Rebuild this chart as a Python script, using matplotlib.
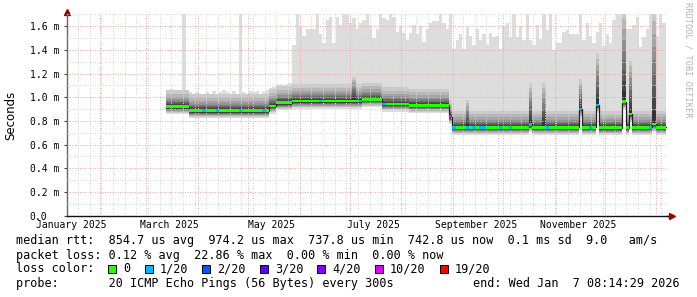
import numpy as np
import pandas as pd
import matplotlib
matplotlib.use("Agg")
import matplotlib.pyplot as plt
import matplotlib.dates as mdates
from matplotlib.ticker import MultipleLocator, FuncFormatter
from matplotlib.patches import Rectangle

# graph window (360 days)
t_start = "2025-01-12 08:14:29"
t_end = "2026-01-07 08:14:29"

# data begins here, one value per 2 day step
bin_start = "2025-03-12 12:00"
bin_days = 2

# max rtt per step (ms)
top_ms = [
    1.06, 1.07, 1.05, 1.06, 1.05, 1.75, 1.06, 1.04, 1.03, 1.04,
    1.02, 1.03, 1.04, 1.03, 1.05, 1.03, 1.04, 1.06, 1.04, 1.03,
    1.05, 1.03, 1.75, 1.04, 1.03, 1.05, 1.04, 1.05, 1.03, 1.04,
    1.06, 1.08, 1.09, 1.10, 1.11, 1.10, 1.11, 1.12, 1.44, 1.75,
    1.60, 1.52, 1.58, 1.58, 1.58, 1.75, 1.53, 1.46, 1.65, 1.68,
    1.46, 1.68, 1.61, 1.75, 1.75, 1.63, 1.67, 1.58, 1.63, 1.65,
    1.75, 1.61, 1.50, 1.58, 1.75, 1.67, 1.65, 1.75, 1.68, 1.55,
    1.60, 1.54, 1.48, 1.54, 1.61, 1.53, 1.60, 1.47, 1.58, 1.63,
    1.64, 1.64, 1.75, 1.63, 1.58, 1.75, 1.41, 1.48, 1.53, 1.41,
    1.59, 1.52, 1.44, 1.58, 1.48, 1.53, 1.44, 1.54, 1.51, 1.52,
    1.41, 1.60, 1.63, 1.51, 1.75, 1.51, 1.60, 1.48, 1.75, 1.48,
    1.44, 1.61, 1.49, 1.75, 1.57, 1.75, 1.40, 1.46, 1.46, 1.55,
    1.57, 1.53, 1.53, 1.53, 1.75, 1.48, 1.63, 1.52, 1.46, 1.55,
    1.63, 1.43, 1.53, 1.46, 1.65, 1.75, 1.75, 1.75, 1.58, 1.58,
    1.61, 1.68, 1.42, 1.51, 1.58, 1.75, 1.75, 1.52, 1.75, 1.63,
]

# median rtt (ms), value holds from each date on
med_dates = ["2025-03-12", "2025-03-27", "2025-05-13", "2025-05-18", "2025-05-27",
             "2025-07-08", "2025-07-21", "2025-08-06", "2025-08-30", "2025-08-31",
             "2025-10-17", "2025-10-18", "2025-11-16", "2025-11-17", "2025-11-26",
             "2025-11-27", "2025-12-12", "2025-12-13", "2025-12-16", "2025-12-17",
             "2025-12-30", "2025-12-31"]
med_ms = [0.920, 0.886, 0.926, 0.953, 0.968,
          0.982, 0.943, 0.932, 0.835, 0.746,
          0.770, 0.746, 0.900, 0.746, 0.934,
          0.742, 0.962, 0.742, 0.858, 0.746,
          0.773, 0.746]

# steps where the dark smoke shoots up (ms)
spike_dates = ["2025-07-03", "2025-09-09", "2025-10-17", "2025-10-25", "2025-11-16",
               "2025-11-26", "2025-12-12", "2025-12-16", "2025-12-30"]
spike_ms = [1.17, 0.98, 1.12, 1.12, 1.15, 1.37, 1.75, 1.31, 1.75]

# steps with lost pings (out of 20)
loss_dates = ["2025-04-04", "2025-04-12", "2025-04-26", "2025-05-10", "2025-06-13",
              "2025-07-07", "2025-07-21", "2025-08-30", "2025-09-01", "2025-09-09",
              "2025-09-13", "2025-09-17", "2025-09-19", "2025-09-29", "2025-10-05",
              "2025-10-17", "2025-10-27", "2025-11-16", "2025-11-22", "2025-11-26",
              "2025-12-28"]
loss_n = [1, 1, 1, 1, 1,
          1, 1, 10, 1, 1,
          1, 1, 1, 1, 1,
          1, 1, 1, 1, 1,
          1]

loss_levels = [0, 1, 2, 3, 4, 10, 19]
loss_labels = ["0", "1/20", "2/20", "3/20", "4/20", "10/20", "19/20"]
loss_colors = ["#26ff00", "#00b8ff", "#0059ff", "#5e00ff", "#7e00ff", "#dd00ff", "#ff0000"]

# smoke layers around the median (ms), outermost first
smoke_lo = [-0.065, -0.055, -0.047, -0.040, -0.034, -0.029, -0.024, -0.020, -0.016, -0.012]
smoke_hi = [None, 0.14, 0.11, 0.085, 0.065, 0.05, 0.038, 0.028, 0.02, 0.012]

label_dates = ["2025-01-15", "2025-03-15", "2025-05-15", "2025-07-15", "2025-09-15", "2025-11-15"]

stats_lines = [
    "median rtt:  854.7 us avg  974.2 us max  737.8 us min  742.8 us now  0.1 ms sd  9.0   am/s",
    "packet loss: 0.12 % avg  22.86 % max  0.00 % min  0.00 % now",
]
probe_text = "probe:       20 ICMP Echo Pings (56 Bytes) every 300s"
end_text = "end: Wed Jan  7 08:14:29 2026"

mono = "DejaVu Sans Mono"
plt.rcParams['font.family'] = mono

W, H = 697, 297
fig = plt.figure(figsize=(W / 100, H / 100), dpi=100)
fig.patch.set_facecolor("white")
ax = fig.add_axes([67 / W, 81.5 / H, 600 / W, 201.5 / H])

start = pd.Timestamp(bin_start)
step = pd.Timedelta(days=bin_days)
n = len(top_ms)
edges = mdates.date2num(pd.date_range(start, periods=n + 1, freq="%dD" % bin_days))


def bin_of(d):
    return int((pd.Timestamp(d) + pd.Timedelta(hours=12) - start) / step)


def ext(a):
    return np.append(a, a[-1])


med = np.zeros(n)
for d, v in zip(med_dates, med_ms):
    med[bin_of(d):] = v

lo = [med + o for o in smoke_lo]
hi = [None] + [med + o for o in smoke_hi[1:]]
for d, s in zip(spike_dates, spike_ms):
    j = bin_of(d)
    for k in range(1, 10):
        hi[k][j] = max(hi[k][j], med[j] + (s - med[j]) * (10 - k) / 9)
hi[0] = np.maximum(np.array(top_ms), hi[1])

# smoke, smokeping grey shades
half = 10
for k in range(10):
    g = int(190 / half * (half - (k + 1))) + 50
    col = "#%02x%02x%02x" % (g, g, g)
    ax.fill_between(edges, ext(lo[k]), ext(hi[k]), step="post", color=col, lw=0, zorder=1)

# median coloured by loss
sw = 0.012
ax.step(edges, ext(med), where="post", color="#202020", lw=0.9, zorder=3)
ax.fill_between(edges, ext(med - sw), ext(med + sw), step="post",
                color=loss_colors[0], lw=0, zorder=4)
loss = np.zeros(n, int)
for d, c in zip(loss_dates, loss_n):
    loss[bin_of(d)] = c
for lvl, col in zip(loss_levels[1:], loss_colors[1:]):
    m = loss == lvl
    if m.any():
        ax.bar(edges[:-1][m], 2 * sw, bottom=med[m] - sw, width=bin_days,
               align="edge", color=col, lw=0, zorder=5)

ax.set_xlim(mdates.date2num(pd.Timestamp(t_start)), mdates.date2num(pd.Timestamp(t_end)))
ax.set_ylim(0, 1.703)

# grid
ax.set_axisbelow(False)
ax.xaxis.set_major_locator(mdates.MonthLocator())
ax.xaxis.set_minor_locator(mdates.WeekdayLocator(byweekday=mdates.SU))
ax.yaxis.set_major_locator(MultipleLocator(0.2))
ax.yaxis.set_minor_locator(MultipleLocator(0.1))
ax.grid(which="major", color="#eeaaaa", lw=0.72, ls=(0, (1, 1.5)), zorder=2)
ax.grid(which="minor", color="#d6d6d6", lw=0.72, ls=(0, (1, 1.5)), zorder=2)

ax.tick_params(axis="x", which="both", length=0, labelbottom=False)
ax.tick_params(axis="y", which="minor", length=0)
ax.tick_params(axis="y", which="major", length=2, width=0.8, color="#444444",
               pad=25, labelsize=7)
ax.yaxis.set_major_formatter(FuncFormatter(lambda v, p: "0.0" if abs(v) < 1e-9 else "%.1f m" % v))
for t in ax.yaxis.get_major_ticks():
    t.label1.set_horizontalalignment("left")

for d in label_dates:
    ts = pd.Timestamp(d)
    ax.text(mdates.date2num(ts), -0.024, ts.strftime("%B %Y"), transform=ax.get_xaxis_transform(),
            ha="center", va="top", fontsize=7)

for s in ["top", "right"]:
    ax.spines[s].set_visible(False)
ax.spines["left"].set_color("#666666")
ax.spines["left"].set_linewidth(1)
ax.spines["bottom"].set_color("#111111")
ax.spines["bottom"].set_linewidth(1)
ax.plot([1.0, 1.006], [0, 0], transform=ax.transAxes, color="#111111", lw=1, clip_on=False)
ax.plot([1.008], [0], marker=">", ms=4, color="#990000", transform=ax.transAxes, clip_on=False)
ax.plot([0], [1.01], marker="^", ms=4, color="#990000", transform=ax.transAxes, clip_on=False)

fig.text(11 / W, 1 - 115 / H, "Seconds", rotation=90, ha="center", va="center",
         family="DejaVu Sans", fontsize=8.5)
fig.text(688 / W, 1 - 60 / H, "RRDTOOL / TOBI OETIKER", rotation=270, ha="center", va="center",
         fontsize=6.2, color="#b4b4b4")


def px(x, y):
    return x / W, 1 - y / H


fs = 8.5
cw = 7.1
fig.text(*px(16, 240.7), stats_lines[0], fontsize=fs, va="center")
fig.text(*px(16, 255.3), stats_lines[1], fontsize=fs, va="center")
fig.text(*px(16, 269), "loss color:", fontsize=fs, va="center")
bx = 16 + 13 * cw
for lab, col in zip(loss_labels, loss_colors):
    fig.add_artist(Rectangle(px(bx, 272.7), 8 / W, 8 / H, transform=fig.transFigure,
                             facecolor=col, edgecolor="black", lw=0.7))
    fig.text(*px(bx + 15, 269), lab, fontsize=fs, va="center")
    bx += 15 + (len(lab) + 2) * cw
fig.text(*px(16, 283.3), probe_text, fontsize=fs, va="center")
fig.text(*px(680, 283.3), end_text, fontsize=fs, va="center", ha="right")

fig.savefig("out.png", dpi=100)
